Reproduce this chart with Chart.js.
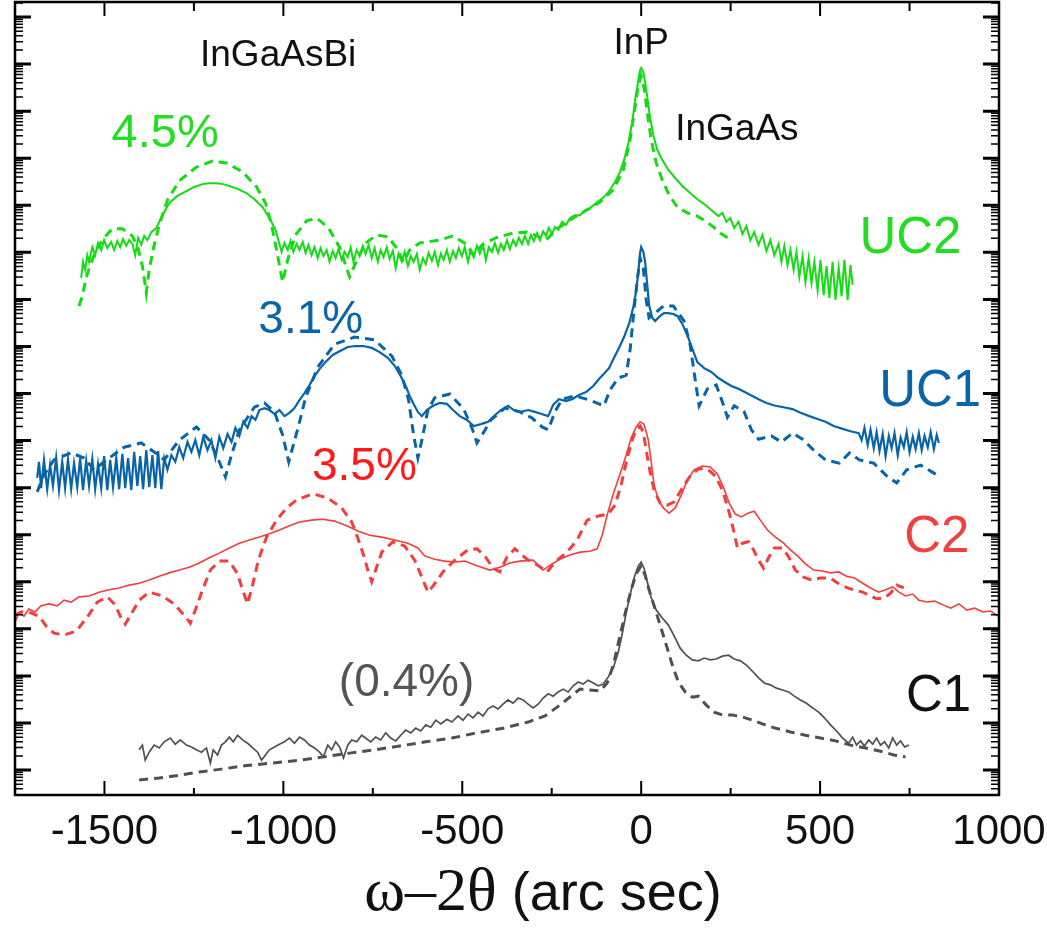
<!DOCTYPE html>
<html>
<head>
<meta charset="utf-8">
<script src="https://cdn.jsdelivr.net/npm/chart.js@4.4.1/dist/chart.umd.min.js"></script>
<style>
  html, body { margin: 0; padding: 0; background: #fff; }
  canvas { display: block; }
</style>
</head>
<body>
<canvas id="myChart" width="1047" height="933"></canvas>
<script>
// x: omega-2theta (arc sec), y: log10 intensity with a per-curve offset (decades)

// UC2 measured (green solid)
const uc2Meas = [[-1565,10.46],[-1560,10.80],[-1554,10.63],[-1548,10.94],[-1543,10.80],[-1534,11.11],[-1526,10.94],[-1518,11.20],[-1509,11.05],[-1501,11.26],[-1492,11.09],[-1481,11.22],[-1473,11.05],[-1464,11.24],[-1456,11.11],[-1448,11.28],[-1439,11.14],[-1431,11.26],[-1422,11.18],[-1414,10.94],[-1406,11.31],[-1397,11.16],[-1389,11.35],[-1380,11.26],[-1369,11.43],[-1355,11.52],[-1338,11.79],[-1319,12.05],[-1296,12.20],[-1271,12.30],[-1249,12.39],[-1226,12.45],[-1207,12.47],[-1187,12.47],[-1168,12.45],[-1151,12.41],[-1128,12.35],[-1103,12.26],[-1081,12.13],[-1058,11.96],[-1039,11.73],[-1022,11.48],[-1011,11.18],[-1005,11.01],[-997,11.20],[-988,11.05],[-980,11.24],[-972,11.01],[-963,11.18],[-955,11.05],[-946,11.22],[-938,10.99],[-930,11.16],[-921,10.94],[-913,11.11],[-904,10.88],[-896,11.09],[-888,10.92],[-879,11.05],[-871,10.80],[-862,11.03],[-854,10.88],[-846,11.07],[-837,10.84],[-829,11.01],[-820,10.90],[-812,11.11],[-804,10.80],[-795,11.05],[-787,10.92],[-778,11.14],[-770,10.97],[-762,11.16],[-753,10.88],[-745,11.09],[-736,10.80],[-728,11.05],[-720,10.90],[-711,11.11],[-703,10.86],[-694,11.03],[-686,10.67],[-678,10.97],[-669,10.80],[-661,11.01],[-652,10.71],[-644,10.92],[-636,10.80],[-627,10.97],[-619,10.63],[-610,10.88],[-602,10.75],[-594,10.99],[-585,10.82],[-577,11.01],[-568,10.73],[-560,10.97],[-552,10.84],[-543,11.05],[-535,10.80],[-526,11.03],[-518,10.88],[-510,11.09],[-501,10.92],[-493,11.11],[-484,10.80],[-476,11.05],[-468,10.90],[-459,11.14],[-451,10.97],[-442,11.16],[-434,10.84],[-426,11.11],[-417,11.01],[-409,11.20],[-400,10.99],[-392,11.18],[-384,11.05],[-375,11.26],[-367,11.07],[-358,11.26],[-350,11.14],[-342,11.31],[-333,11.18],[-325,11.35],[-316,11.18],[-308,11.37],[-300,11.24],[-291,11.41],[-283,11.26],[-274,11.45],[-266,11.35],[-258,11.52],[-249,11.39],[-241,11.54],[-232,11.48],[-221,11.65],[-210,11.58],[-199,11.73],[-185,11.79],[-171,11.79],[-157,11.90],[-143,11.94],[-129,12.03],[-115,12.11],[-101,12.20],[-87,12.33],[-73,12.50],[-59,12.71],[-48,12.96],[-36,13.32],[-25,13.77],[-17,14.24],[-8,14.66],[-3,14.88],[0,14.92],[6,14.83],[11,14.62],[17,14.30],[25,13.86],[34,13.49],[45,13.18],[59,12.96],[76,12.75],[95,12.58],[115,12.41],[137,12.26],[157,12.13],[179,12.01],[199,11.88],[216,11.77],[227,11.84],[238,11.65],[249,11.73],[260,11.52],[272,11.65],[283,11.39],[294,11.56],[305,11.26],[316,11.43],[328,11.16],[339,11.37],[350,11.03],[361,11.26],[372,10.94],[384,11.18],[392,10.80],[400,11.14],[409,10.73],[417,11.05],[426,10.63],[434,11.01],[442,10.48],[451,10.92],[459,10.37],[468,10.88],[476,10.35],[484,10.80],[493,10.20],[501,10.84],[510,10.09],[518,10.71],[526,10.03],[535,10.80],[543,9.99],[552,10.67],[560,10.07],[568,10.84],[577,9.99],[585,10.73],[591,10.31]];

// UC2 simulated (green dashed)
const uc2Sim = [[-1571,9.86],[-1562,10.07],[-1551,10.46],[-1540,10.73],[-1523,11.05],[-1501,11.31],[-1478,11.50],[-1450,11.50],[-1422,11.35],[-1406,11.09],[-1394,10.71],[-1383,10.14],[-1375,10.63],[-1363,11.09],[-1347,11.58],[-1324,12.11],[-1291,12.52],[-1243,12.81],[-1198,12.94],[-1159,12.90],[-1114,12.71],[-1075,12.39],[-1050,12.05],[-1033,11.58],[-1019,11.05],[-1002,10.37],[-988,10.84],[-966,11.37],[-935,11.67],[-907,11.73],[-874,11.52],[-843,11.11],[-815,10.48],[-792,10.88],[-770,11.20],[-739,11.37],[-708,11.33],[-683,11.09],[-664,10.80],[-647,11.05],[-619,11.20],[-563,11.26],[-526,11.35],[-490,11.18],[-468,10.94],[-445,11.16],[-406,11.31],[-358,11.41],[-319,11.43],[-291,11.35],[-266,11.26],[-238,11.48],[-199,11.69],[-151,11.90],[-115,12.07],[-78,12.33],[-50,12.75],[-31,13.39],[-17,14.09],[-8,14.56],[0,14.75],[8,14.49],[17,13.98],[28,13.39],[42,12.90],[59,12.54],[78,12.22],[101,11.96],[129,11.84],[157,11.77],[179,11.67],[202,11.54],[221,11.41],[241,11.31]];

// UC1 measured (blue solid)
const uc1Meas = [[-1688,6.21],[-1683,6.55],[-1677,5.99],[-1669,6.59],[-1660,5.97],[-1652,6.48],[-1644,6.04],[-1635,6.63],[-1627,5.95],[-1618,6.55],[-1610,5.99],[-1602,6.61],[-1593,5.97],[-1585,6.52],[-1576,6.01],[-1568,6.63],[-1560,5.95],[-1551,6.57],[-1543,6.04],[-1534,6.61],[-1526,5.97],[-1518,6.50],[-1509,5.99],[-1501,6.67],[-1492,5.95],[-1484,6.59],[-1476,6.01],[-1467,6.63],[-1459,5.97],[-1450,6.72],[-1442,5.99],[-1434,6.63],[-1425,5.95],[-1417,6.76],[-1408,6.04],[-1400,6.67],[-1392,5.97],[-1383,6.80],[-1375,6.01],[-1366,6.69],[-1358,5.99],[-1350,6.78],[-1341,5.97],[-1333,6.63],[-1324,6.38],[-1313,6.69],[-1302,6.55],[-1291,6.86],[-1280,6.63],[-1268,6.97],[-1257,6.76],[-1246,7.01],[-1235,6.69],[-1224,7.08],[-1212,6.80],[-1201,7.01],[-1190,6.63],[-1179,7.08],[-1168,6.84],[-1156,7.14],[-1145,6.97],[-1134,7.27],[-1123,7.10],[-1112,7.40],[-1100,7.27],[-1089,7.52],[-1078,7.44],[-1067,7.65],[-1053,7.69],[-1039,7.65],[-1025,7.57],[-1011,7.65],[-997,7.52],[-983,7.59],[-969,7.69],[-955,7.86],[-941,8.01],[-927,8.18],[-913,8.37],[-899,8.52],[-882,8.67],[-862,8.82],[-843,8.90],[-820,8.99],[-798,9.01],[-776,9.01],[-753,8.97],[-731,8.88],[-708,8.76],[-689,8.59],[-672,8.37],[-658,8.16],[-647,7.95],[-636,7.78],[-624,7.61],[-613,7.52],[-599,7.65],[-582,7.74],[-563,7.80],[-543,7.78],[-526,7.65],[-507,7.52],[-487,7.44],[-468,7.31],[-448,7.35],[-428,7.40],[-409,7.54],[-392,7.65],[-372,7.74],[-356,7.65],[-336,7.61],[-316,7.65],[-297,7.61],[-280,7.57],[-260,7.52],[-246,7.76],[-230,7.88],[-210,7.84],[-193,7.88],[-174,7.97],[-154,8.03],[-134,8.16],[-118,8.31],[-104,8.42],[-90,8.54],[-76,8.76],[-62,8.97],[-48,9.20],[-34,9.48],[-22,9.84],[-14,10.18],[-8,10.58],[-3,10.99],[0,11.11],[6,11.01],[11,10.80],[17,10.31],[22,9.88],[31,9.61],[39,9.54],[53,9.65],[64,9.71],[76,9.71],[90,9.69],[101,9.65],[115,9.48],[129,9.24],[143,8.95],[157,8.67],[176,8.54],[196,8.46],[216,8.33],[232,8.25],[252,8.16],[272,8.10],[300,7.99],[328,7.88],[350,7.80],[375,7.74],[398,7.71],[423,7.67],[445,7.59],[470,7.52],[493,7.46],[515,7.40],[538,7.31],[563,7.25],[585,7.20],[608,7.16],[616,7.01],[624,7.27],[633,6.91],[641,7.23],[650,6.84],[658,7.18],[666,6.78],[675,7.14],[683,6.67],[692,7.10],[700,6.84],[708,7.16],[717,6.69],[725,7.06],[734,6.86],[742,7.18],[750,6.76],[759,7.08],[767,6.82],[776,7.16],[784,6.80],[792,7.10],[801,6.86],[809,7.18],[818,6.82],[826,7.12],[832,6.95]];

// UC1 simulated (blue dashed)
const uc1Sim = [[-1688,5.91],[-1669,6.27],[-1641,6.59],[-1593,6.74],[-1557,6.63],[-1529,6.38],[-1501,6.55],[-1445,6.86],[-1397,6.95],[-1361,6.76],[-1333,6.59],[-1291,7.01],[-1243,7.29],[-1207,7.01],[-1179,6.55],[-1162,6.23],[-1145,6.69],[-1123,7.23],[-1081,7.71],[-1053,7.80],[-1025,7.61],[-1002,7.12],[-985,6.55],[-972,6.91],[-957,7.33],[-938,7.91],[-904,8.56],[-857,9.05],[-801,9.20],[-745,9.14],[-697,8.80],[-669,8.39],[-650,7.86],[-636,7.12],[-624,6.63],[-613,7.01],[-596,7.65],[-577,7.91],[-535,7.99],[-496,7.67],[-473,7.27],[-459,6.95],[-440,7.18],[-420,7.44],[-381,7.69],[-339,7.61],[-305,7.48],[-277,7.29],[-260,7.23],[-241,7.61],[-221,7.88],[-185,7.95],[-143,7.86],[-118,7.78],[-104,7.74],[-87,8.08],[-64,8.33],[-42,8.39],[-31,8.93],[-20,9.78],[-11,10.41],[-3,10.88],[6,10.67],[14,9.99],[22,9.61],[36,9.69],[62,9.86],[90,9.86],[120,9.54],[137,9.03],[151,8.29],[162,7.74],[185,8.10],[210,8.18],[227,7.82],[241,7.50],[260,7.74],[288,7.61],[308,7.23],[328,7.03],[364,7.10],[392,6.97],[423,7.16],[451,7.03],[479,6.82],[515,6.59],[554,6.52],[582,6.74],[610,6.59],[650,6.52],[686,6.25],[714,6.10],[742,6.38],[781,6.48],[818,6.31],[832,6.23]];

// C2 measured (red solid)
const c2Meas = [[-1750,3.15],[-1739,3.34],[-1725,3.27],[-1711,3.42],[-1694,3.36],[-1677,3.49],[-1655,3.53],[-1632,3.49],[-1613,3.61],[-1593,3.57],[-1571,3.68],[-1543,3.70],[-1515,3.78],[-1487,3.83],[-1459,3.87],[-1431,3.93],[-1403,3.97],[-1375,4.04],[-1347,4.12],[-1319,4.19],[-1291,4.25],[-1263,4.31],[-1235,4.40],[-1207,4.51],[-1179,4.61],[-1151,4.72],[-1123,4.82],[-1095,4.89],[-1067,4.95],[-1039,5.02],[-1011,5.10],[-983,5.19],[-955,5.27],[-921,5.31],[-890,5.33],[-857,5.29],[-823,5.19],[-792,5.08],[-759,4.99],[-725,4.95],[-689,4.89],[-652,4.82],[-624,4.72],[-605,4.55],[-577,4.48],[-549,4.44],[-521,4.42],[-493,4.44],[-459,4.34],[-423,4.25],[-395,4.31],[-367,4.40],[-339,4.44],[-302,4.46],[-274,4.25],[-249,4.38],[-227,4.48],[-199,4.57],[-171,4.63],[-143,4.65],[-123,4.70],[-109,4.99],[-95,5.42],[-78,5.87],[-59,6.29],[-42,6.69],[-28,7.06],[-14,7.29],[-3,7.40],[8,7.35],[20,7.01],[28,6.55],[36,6.06],[48,5.74],[62,5.57],[78,5.46],[95,5.57],[112,5.84],[129,6.16],[148,6.38],[171,6.46],[193,6.44],[213,6.29],[230,6.01],[246,5.67],[263,5.44],[280,5.38],[300,5.46],[316,5.50],[333,5.31],[353,5.10],[375,4.95],[398,4.82],[417,4.68],[437,4.55],[459,4.38],[482,4.25],[507,4.23],[529,4.19],[552,4.21],[574,4.12],[596,4.08],[619,3.97],[641,3.87],[664,3.78],[683,3.83],[703,3.89],[720,3.78],[739,3.70],[759,3.74],[776,3.61],[798,3.57],[820,3.59],[843,3.51],[865,3.44],[888,3.53],[910,3.40],[932,3.44],[955,3.36],[977,3.38],[997,3.27]];

// C2 simulated (red dashed)
const c2Sim = [[-1750,3.29],[-1733,3.36],[-1711,3.36],[-1683,3.27],[-1663,3.06],[-1641,2.91],[-1613,2.87],[-1579,2.95],[-1548,3.25],[-1520,3.57],[-1492,3.68],[-1470,3.51],[-1456,3.27],[-1442,3.10],[-1425,3.32],[-1403,3.61],[-1375,3.78],[-1338,3.70],[-1305,3.53],[-1277,3.29],[-1260,3.12],[-1246,3.40],[-1226,3.83],[-1204,4.25],[-1179,4.44],[-1151,4.44],[-1128,4.17],[-1114,3.83],[-1100,3.53],[-1086,3.93],[-1070,4.46],[-1047,4.95],[-1019,5.31],[-991,5.57],[-963,5.74],[-918,5.87],[-876,5.78],[-837,5.57],[-809,5.27],[-792,4.93],[-775,4.55],[-764,4.25],[-753,4.00],[-742,4.25],[-725,4.63],[-694,4.85],[-661,4.76],[-633,4.46],[-613,4.10],[-596,3.78],[-580,3.93],[-554,4.21],[-521,4.46],[-484,4.68],[-459,4.70],[-437,4.55],[-414,4.29],[-395,4.21],[-375,4.53],[-353,4.70],[-319,4.48],[-291,4.36],[-263,4.21],[-241,4.42],[-207,4.63],[-179,4.89],[-151,5.31],[-120,5.40],[-92,5.44],[-73,5.63],[-56,6.06],[-39,6.63],[-25,7.01],[-14,7.25],[-3,7.31],[6,7.18],[14,6.80],[25,6.33],[36,5.95],[53,5.67],[73,5.63],[92,5.70],[115,5.99],[137,6.25],[160,6.40],[185,6.40],[207,6.25],[227,5.95],[244,5.53],[258,5.10],[269,4.72],[283,4.82],[300,4.85],[314,4.68],[328,4.46],[342,4.29],[356,4.51],[372,4.72],[395,4.72],[412,4.53],[431,4.25],[454,4.10],[476,4.04],[501,4.08],[529,4.08],[557,3.93],[585,3.85],[619,3.78],[658,3.64],[680,3.66],[697,3.76],[714,3.93],[734,3.87]];

// C1 measured (grey solid)
const c1Meas = [[-1403,0.43],[-1394,0.53],[-1386,0.21],[-1375,0.38],[-1361,0.53],[-1347,0.47],[-1333,0.60],[-1316,0.68],[-1302,0.55],[-1288,0.64],[-1271,0.53],[-1257,0.49],[-1243,0.43],[-1229,0.38],[-1215,0.47],[-1204,0.15],[-1196,0.43],[-1184,0.32],[-1173,0.53],[-1162,0.60],[-1151,0.70],[-1140,0.60],[-1128,0.74],[-1114,0.64],[-1100,0.57],[-1086,0.47],[-1072,0.38],[-1061,0.21],[-1050,0.32],[-1039,0.43],[-1025,0.49],[-1011,0.55],[-997,0.60],[-983,0.68],[-969,0.57],[-955,0.70],[-941,0.64],[-927,0.53],[-913,0.47],[-899,0.38],[-888,0.28],[-876,0.53],[-865,0.43],[-854,0.60],[-843,0.49],[-832,0.26],[-820,0.53],[-809,0.64],[-795,0.60],[-781,0.74],[-770,0.68],[-756,0.60],[-742,0.70],[-728,0.64],[-714,0.79],[-700,0.68],[-686,0.62],[-672,0.74],[-658,0.85],[-644,0.79],[-630,0.89],[-616,0.83],[-602,0.96],[-588,0.91],[-574,1.06],[-560,0.98],[-543,1.08],[-529,1.02],[-512,1.15],[-498,1.06],[-484,1.19],[-470,1.11],[-456,1.23],[-442,1.15],[-428,1.30],[-414,1.36],[-400,1.30],[-386,1.40],[-372,1.49],[-358,1.42],[-344,1.53],[-330,1.49],[-316,1.40],[-302,1.32],[-288,1.40],[-274,1.53],[-260,1.62],[-246,1.57],[-232,1.66],[-218,1.72],[-204,1.66],[-190,1.79],[-176,1.87],[-162,1.83],[-148,1.91],[-134,1.85],[-120,1.79],[-106,1.83],[-92,1.98],[-78,2.17],[-64,2.51],[-53,2.89],[-42,3.34],[-31,3.72],[-20,4.08],[-8,4.34],[0,4.42],[8,4.29],[17,4.00],[28,3.66],[42,3.40],[59,3.23],[76,3.08],[92,2.85],[109,2.59],[126,2.44],[143,2.34],[160,2.32],[176,2.38],[193,2.34],[210,2.36],[227,2.42],[244,2.44],[260,2.36],[277,2.32],[294,2.23],[311,2.10],[328,1.96],[344,1.85],[361,1.81],[378,1.74],[395,1.70],[412,1.66],[428,1.57],[445,1.49],[462,1.42],[479,1.32],[496,1.23],[512,1.11],[529,0.96],[546,0.83],[563,0.68],[580,0.57],[591,0.70],[602,0.53],[613,0.62],[624,0.51],[636,0.64],[647,0.55],[658,0.68],[669,0.53],[680,0.60],[692,0.47],[703,0.68],[714,0.53],[725,0.62],[736,0.49],[748,0.53]];

// C1 simulated (grey dashed)
const c1Sim = [[-1403,-0.21],[-1347,-0.17],[-1291,-0.11],[-1235,-0.04],[-1173,0.02],[-1109,0.09],[-1030,0.15],[-955,0.21],[-888,0.28],[-815,0.36],[-745,0.43],[-675,0.51],[-602,0.60],[-529,0.68],[-459,0.79],[-386,0.89],[-316,1.02],[-269,1.15],[-227,1.38],[-193,1.59],[-171,1.72],[-143,1.70],[-115,1.68],[-95,1.85],[-78,2.23],[-62,2.76],[-45,3.32],[-28,3.83],[-14,4.17],[0,4.34],[11,4.14],[22,3.83],[36,3.49],[53,3.08],[70,2.66],[87,2.23],[104,1.87],[123,1.66],[143,1.55],[160,1.57],[182,1.38],[204,1.23],[227,1.17],[255,1.17],[283,1.13],[311,1.06],[339,0.98],[375,0.89],[417,0.81],[459,0.74],[501,0.68],[543,0.62],[585,0.53],[627,0.47],[669,0.40],[706,0.32],[739,0.28]];

// axis ticks
const xMajorTicks = [-1500, -1000, -500, 0, 500, 1000];
const xMinorTicks = [-1250, -750, -250, 250, 750];
const xTickLabels = ['-1500', '-1000', '-500', '0', '500', '1000'];
const yDecades = [-1, 0, 1, 2, 3, 4, 5, 6, 7, 8, 9, 10, 11, 12, 13, 14, 15, 16];

// text annotations: [text, x, y, color, font px, align]
const labels = [
    ['InGaAsBi', -1233, 14.97, '#111', 37, 'left'],
    ['InP', 0, 15.22, '#111', 37, 'center'],
    ['InGaAs', 95, 13.39, '#111', 37, 'left'],
    ['4.5%', -1480, 13.24, '#22dd22', 47, 'left'],
    ['3.1%', -1070, 9.29, '#0a64a8', 46, 'left'],
    ['3.5%', -920, 6.16, '#ff1a1a', 46, 'left'],
    ['(0.4%)', -845, 1.57, '#555555', 46, 'left'],
    ['UC2', 610, 10.98, '#22dd22', 51, 'left'],
    ['UC1', 665, 7.74, '#0a64a8', 51, 'left'],
    ['C2', 735, 4.63, '#f04040', 51, 'left'],
    ['C1', 740, 1.25, '#111', 51, 'left']
];

const green = 'rgb(20,220,20)';
const blue = 'rgb(8,100,166)';
const red = 'rgb(242,62,62)';
const grey = 'rgb(80,80,80)';

const toXY = arr => arr.map(p => ({ x: p[0], y: p[1] }));

const line = (data, color, dashed, width) => ({
    data: toXY(data),
    borderColor: color,
    borderWidth: dashed ? 3 : width,
    borderDash: dashed ? [9, 6] : [],
    showLine: true,
    pointRadius: 0,
    tension: 0,
    fill: false
});

const framePlugin = {
    id: 'frame',
    afterDraw(chart) {
        const { ctx, chartArea: a, scales: { x, y } } = chart;
        ctx.save();
        ctx.strokeStyle = '#000';
        ctx.lineWidth = 2;
        ctx.beginPath();
        // x ticks top and bottom, pointing inward
        xMajorTicks.forEach(v => {
            const px = x.getPixelForValue(v);
            ctx.moveTo(px, a.bottom); ctx.lineTo(px, a.bottom - 14);
            ctx.moveTo(px, a.top); ctx.lineTo(px, a.top + 14);
        });
        xMinorTicks.forEach(v => {
            const px = x.getPixelForValue(v);
            ctx.moveTo(px, a.bottom); ctx.lineTo(px, a.bottom - 7);
            ctx.moveTo(px, a.top); ctx.lineTo(px, a.top + 9);
        });
        ctx.stroke();

        // log ticks left and right
        ctx.lineWidth = 1.5;
        ctx.beginPath();
        yDecades.forEach(d => {
            for (let k = 1; k <= 9; k++) {
                const v = d + Math.log10(k);
                if (v < y.min || v > y.max) continue;
                const py = y.getPixelForValue(v);
                const len = k === 1 ? 16 : 8;
                ctx.moveTo(a.left, py); ctx.lineTo(a.left + len, py);
                ctx.moveTo(a.right, py); ctx.lineTo(a.right - len, py);
            }
        });
        ctx.stroke();
        ctx.lineWidth = 3;
        ctx.beginPath();
        yDecades.forEach(d => {
            if (d < y.min || d > y.max) return;
            const py = y.getPixelForValue(d);
            ctx.moveTo(a.left, py); ctx.lineTo(a.left + 16, py);
            ctx.moveTo(a.right, py); ctx.lineTo(a.right - 16, py);
        });
        ctx.stroke();

        // frame
        ctx.lineWidth = 2.5;
        ctx.strokeRect(a.left, a.top, a.right - a.left, a.bottom - a.top);

        // tick labels
        ctx.fillStyle = '#111';
        ctx.font = '42px "Liberation Sans", Arial, sans-serif';
        ctx.textAlign = 'center';
        ctx.textBaseline = 'alphabetic';
        xMajorTicks.forEach((v, i) => {
            ctx.fillText(xTickLabels[i], x.getPixelForValue(v), a.bottom + 49);
        });

        // axis title: greek part in serif, rest in sans
        const part1 = 'ω\u20132θ';
        const part2 = ' (arc sec)';
        const f1 = '62px "Liberation Serif", "Times New Roman", serif';
        const f2 = '54px "Liberation Sans", Arial, sans-serif';
        ctx.font = f1;
        const w1 = ctx.measureText(part1).width;
        ctx.font = f2;
        const w2 = ctx.measureText(part2).width;
        const tx = 543 - (w1 + w2) / 2;
        const ty = a.bottom + 115;
        ctx.textAlign = 'left';
        ctx.font = f1;
        ctx.fillText(part1, tx, ty);
        ctx.font = f2;
        ctx.fillText(part2, tx + w1, ty);

        // annotations
        labels.forEach(([t, lx, ly, c, s, al]) => {
            ctx.fillStyle = c;
            ctx.font = s + 'px "Liberation Sans", Arial, sans-serif';
            ctx.textAlign = al;
            ctx.fillText(t, x.getPixelForValue(lx), y.getPixelForValue(ly));
        });
        ctx.restore();
    }
};

const ctx = document.getElementById('myChart').getContext('2d');

const myChart = new Chart(ctx, {
    type: 'scatter',
    data: {
        datasets: [
            line(uc2Sim, green, true),
            line(uc2Meas, green, false, 2),
            line(uc1Sim, blue, true),
            line(uc1Meas, blue, false, 2.2),
            line(c2Sim, red, true),
            line(c2Meas, red, false, 1.6),
            line(c1Sim, grey, true),
            line(c1Meas, grey, false, 1.7)
        ]
    },
    options: {
        responsive: false,
        animation: false,
        devicePixelRatio: 1,
        layout: { padding: { left: 15, top: 2, right: 48, bottom: 138 } },
        plugins: { legend: { display: false }, tooltip: { enabled: false } },
        scales: {
            x: { type: 'linear', min: -1750, max: 1000, display: false },
            y: { type: 'linear', min: -0.53, max: 16.32, display: false }
        }
    },
    plugins: [framePlugin]
});
</script>
</body>
</html>
